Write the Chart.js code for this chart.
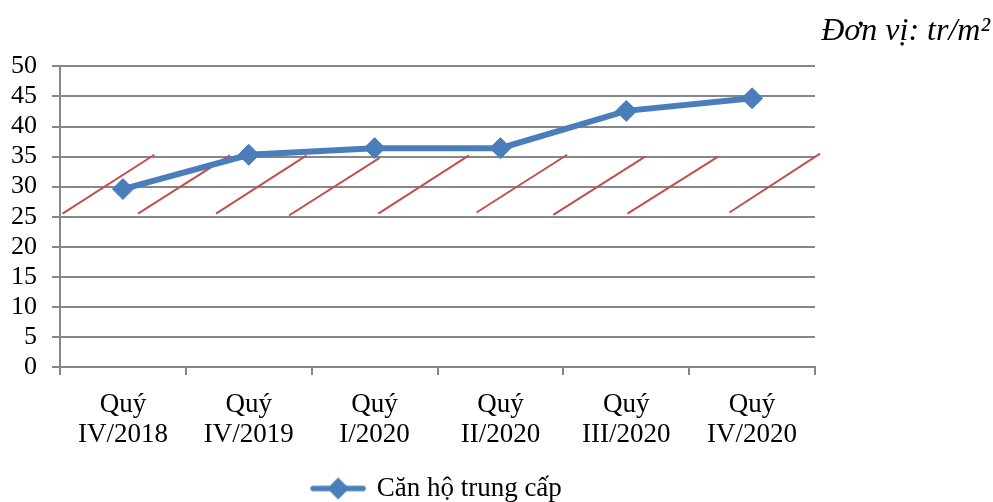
<!DOCTYPE html>
<html>
<head>
<meta charset="utf-8">
<script src="https://cdn.jsdelivr.net/npm/chart.js@4"></script>
<style>
  html, body { margin: 0; padding: 0; background: #fff; }
  #wrap { width: 993px; height: 502px; }
</style>
</head>
<body>
<div id="wrap"><canvas id="c" width="993" height="502"></canvas></div>
<script>
// Giá căn hộ trung cấp theo quý (tr/m²)
const QUARTERS = [["Quý", "IV/2018"], ["Quý", "IV/2019"], ["Quý", "I/2020"], ["Quý", "II/2020"], ["Quý", "III/2020"], ["Quý", "IV/2020"]];
const PRICE = [29.6, 35.3, 36.4, 36.4, 42.6, 44.7];
const SERIES_NAME = "Căn hộ trung cấp";
const UNIT_TEXT = "Đơn vị: tr/m²";
const Y_TICKS = [0, 5, 10, 15, 20, 25, 30, 35, 40, 45, 50];

// red diagonal strokes across the 25–35 band (x in category units, y in tr/m²)
const HATCH_X0 = [-0.48, 0.12, 0.74, 1.32, 2.03, 2.81, 3.42, 4.01, 4.82];
const HATCH_X1 = [0.25, 0.85, 1.46, 2.04, 2.75, 3.53, 4.15, 4.73, 5.54];
const HATCH_Y0 = [25.5, 25.5, 25.5, 25.2, 25.5, 25.7, 25.3, 25.5, 25.7];
const HATCH_Y1 = [35.3, 35.2, 35.2, 34.8, 35.2, 35.3, 35.0, 35.0, 35.5];

const BLUE = "#4A7EBB", RED = "#C0504D", GRID = "#878787";
const FONT = "'Liberation Serif', 'Times New Roman', serif";

const hatchPts = [];
HATCH_X0.forEach((x0, i) => {
  hatchPts.push({ x: x0, y: HATCH_Y0[i] }, { x: HATCH_X1[i], y: HATCH_Y1[i] }, { x: HATCH_X1[i], y: null });
});

// legend icon: line with diamond marker
const icon = document.createElement("canvas");
icon.width = 56; icon.height = 24;
(() => {
  const g = icon.getContext("2d");
  g.strokeStyle = BLUE; g.lineWidth = 5.5; g.lineCap = "round";
  g.beginPath(); g.moveTo(3, 12); g.lineTo(53, 12); g.stroke();
  g.fillStyle = BLUE;
  g.beginPath(); g.moveTo(28, 1); g.lineTo(39, 12); g.lineTo(28, 23); g.lineTo(17, 12); g.closePath(); g.fill();
})();

new Chart(document.getElementById("c"), {
  type: "line",
  data: {
    labels: QUARTERS,
    datasets: [
      { label: SERIES_NAME, data: PRICE, borderColor: BLUE, backgroundColor: BLUE, borderWidth: 6,
        tension: 0, pointStyle: "rectRot", pointRadius: 10.5, pointBorderWidth: 1, pointBackgroundColor: BLUE,
        pointBorderColor: BLUE, order: 0 },
      { label: "hatch", data: hatchPts, xAxisID: "xh", borderColor: RED, borderWidth: 2, pointRadius: 0,
        spanGaps: false, clip: false, order: 1 },
    ],
  },
  options: {
    responsive: false, animation: false, events: [],
    layout: { padding: { left: 0, right: 3, top: 0, bottom: -10 } },
    plugins: {
      tooltip: { enabled: false },
      title: { display: true, text: UNIT_TEXT, align: "end", color: "#000",
        font: { family: FONT, size: 32, style: "italic", weight: "normal", lineHeight: 1.2 },
        padding: { top: 12, bottom: 16 } },
      legend: {
        position: "bottom", fullSize: false,
        labels: {
          color: "#000", font: { family: FONT, size: 27 }, usePointStyle: true, pointStyleWidth: 50, padding: 2,
          generateLabels: (chart) => Chart.defaults.plugins.legend.labels.generateLabels(chart)
            .filter((it) => it.datasetIndex === 0)
            .map((it) => Object.assign(it, { pointStyle: icon, lineWidth: 0 })),
        },
      },
    },
    scales: {
      x: {
        offset: true,
        grid: { display: true, drawOnChartArea: false, drawTicks: true, tickLength: 8, color: GRID, lineWidth: 2, offset: true },
        border: { display: true, color: GRID, width: 2 },
        ticks: { color: "#000", font: { family: FONT, size: 27, lineHeight: 1.1 }, padding: 15, maxRotation: 0, autoSkip: false },
        afterFit: (s) => { s.height = 106; },
      },
      xh: { type: "linear", position: "bottom", display: false, min: -0.5, max: 5.5 },
      y: {
        min: 0, max: 50,
        afterBuildTicks: (s) => { s.ticks = Y_TICKS.map((v) => ({ value: v })); },
        grid: { color: GRID, lineWidth: 2, tickLength: 8 },
        border: { display: true, color: GRID, width: 2 },
        ticks: { color: "#000", font: { family: FONT, size: 26 }, padding: 15, autoSkip: false },
        afterFit: (s) => { s.width = 60; },
      },
      yr: {
        type: "linear", position: "right",
        grid: { display: false }, border: { display: false }, ticks: { display: false },
        afterFit: (s) => { s.width = 175; },
      },
    },
  },
});
</script>
</body>
</html>
